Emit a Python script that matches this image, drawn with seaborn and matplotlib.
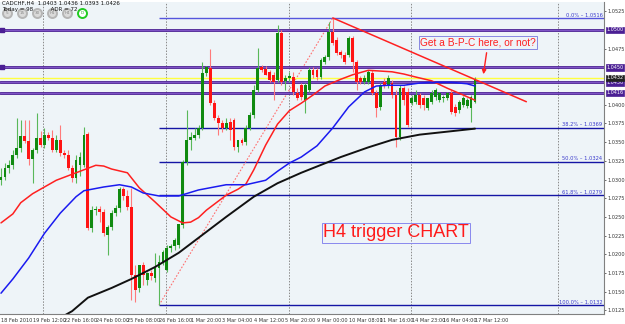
import numpy as np
import pandas as pd
import matplotlib
matplotlib.use("Agg")
import matplotlib.pyplot as plt
import seaborn as sns

# ---------------- data (CADCHF H4) ----------------
opens = [1.0299,1.0303,1.0315,1.0319,1.0333,1.0342,1.0358,1.0351,1.0327,1.0339,
         1.0355,1.0346,1.0359,1.0355,1.0339,1.0353,1.0335,1.0333,1.0315,1.0302,
         1.0319,1.0319,1.0361,1.0235,1.0259,1.0261,1.0257,1.0226,1.0236,1.0255,
         1.0262,1.0287,1.0278,1.0263,1.0172,1.0155,1.0186,1.0166,1.0175,1.0168,
         1.0182,1.0190,1.0179,1.0208,1.0211,1.0212,1.0239,1.0323,1.0353,1.0355,
         1.0359,1.0369,1.0442,1.0449,1.0402,1.0382,1.0376,1.0369,1.0377,1.0380,
         1.0343,1.0353,1.0350,1.0369,1.0386,1.0420,1.0450,1.0448,1.0444,1.0440,
         1.0433,1.0496,1.0432,1.0436,1.0437,1.0416,1.0426,1.0406,1.0420,1.0446,
         1.0446,1.0437,1.0457,1.0464,1.0497,1.0487,1.0470,1.0466,1.0466,1.0489,
         1.0457,1.0436,1.0430,1.0430,1.0442,1.0416,1.0397,1.0430,1.0426,1.0429,
         1.0413,1.0357,1.0422,1.0417,1.0402,1.0404,1.0413,1.0409,1.0396,1.0404,
         1.0410,1.0406,1.0409,1.0409,1.0416,1.0397,1.0393,1.0400,1.0398,1.0396,
         1.0403]
highs = [1.0315,1.0322,1.0326,1.0339,1.0382,1.0380,1.0380,1.0380,1.0342,1.0389,
         1.0365,1.0369,1.0364,1.0366,1.0359,1.0373,1.0339,1.0339,1.0319,1.0333,
         1.0337,1.0370,1.0364,1.0265,1.0265,1.0265,1.0261,1.0239,1.0259,1.0266,
         1.0290,1.0290,1.0286,1.0289,1.0186,1.0186,1.0190,1.0176,1.0179,1.0202,
         1.0199,1.0206,1.0212,1.0214,1.0222,1.0241,1.0326,1.0393,1.0364,1.0369,
         1.0373,1.0457,1.0452,1.0474,1.0406,1.0386,1.0380,1.0382,1.0382,1.0382,
         1.0353,1.0355,1.0373,1.0390,1.0426,1.0476,1.0453,1.0452,1.0446,1.0444,
         1.0507,1.0500,1.0440,1.0444,1.0444,1.0422,1.0429,1.0429,1.0450,1.0450,
         1.0449,1.0462,1.0466,1.0510,1.0516,1.0490,1.0473,1.0470,1.0492,1.0492,
         1.0460,1.0438,1.0440,1.0446,1.0446,1.0420,1.0429,1.0436,1.0440,1.0433,
         1.0420,1.0426,1.0425,1.0422,1.0413,1.0420,1.0416,1.0413,1.0409,1.0420,
         1.0422,1.0417,1.0413,1.0417,1.0420,1.0401,1.0406,1.0412,1.0409,1.0413,
         1.0437]
lows  = [1.0293,1.0299,1.0309,1.0314,1.0329,1.0337,1.0349,1.0319,1.0295,1.0335,
         1.0343,1.0342,1.0353,1.0337,1.0337,1.0331,1.0329,1.0313,1.0297,1.0295,
         1.0305,1.0317,1.0233,1.0230,1.0253,1.0243,1.0224,1.0199,1.0233,1.0251,
         1.0257,1.0273,1.0259,1.0139,1.0136,1.0150,1.0159,1.0159,1.0166,1.0163,
         1.0132,1.0186,1.0176,1.0203,1.0206,1.0208,1.0235,1.0319,1.0339,1.0353,
         1.0355,1.0366,1.0438,1.0400,1.0380,1.0360,1.0364,1.0366,1.0353,1.0339,
         1.0337,1.0346,1.0346,1.0366,1.0382,1.0417,1.0444,1.0440,1.0430,1.0406,
         1.0430,1.0426,1.0420,1.0430,1.0413,1.0406,1.0406,1.0389,1.0417,1.0436,
         1.0433,1.0434,1.0454,1.0460,1.0480,1.0466,1.0462,1.0454,1.0464,1.0444,
         1.0420,1.0428,1.0428,1.0428,1.0413,1.0384,1.0393,1.0422,1.0422,1.0409,
         1.0343,1.0353,1.0400,1.0370,1.0400,1.0401,1.0396,1.0393,1.0393,1.0401,
         1.0406,1.0404,1.0404,1.0406,1.0388,1.0385,1.0389,1.0397,1.0396,1.0377,
         1.0402]
closes = [1.0303,1.0315,1.0319,1.0333,1.0342,1.0358,1.0351,1.0327,1.0339,1.0355,
          1.0346,1.0359,1.0355,1.0339,1.0353,1.0335,1.0333,1.0315,1.0302,1.0326,
          1.0330,1.0359,1.0235,1.0259,1.0261,1.0257,1.0229,1.0236,1.0255,1.0262,
          1.0287,1.0278,1.0263,1.0172,1.0152,1.0186,1.0172,1.0175,1.0171,1.0182,
          1.0190,1.0203,1.0208,1.0211,1.0219,1.0240,1.0323,1.0353,1.0357,1.0359,
          1.0369,1.0442,1.0450,1.0402,1.0382,1.0376,1.0369,1.0376,1.0366,1.0343,
          1.0353,1.0349,1.0369,1.0386,1.0420,1.0449,1.0446,1.0440,1.0433,1.0430,
          1.0496,1.0430,1.0436,1.0438,1.0417,1.0409,1.0410,1.0426,1.0446,1.0440,
          1.0437,1.0460,1.0464,1.0497,1.0483,1.0469,1.0466,1.0457,1.0489,1.0457,
          1.0430,1.0430,1.0436,1.0444,1.0416,1.0396,1.0426,1.0426,1.0436,1.0413,
          1.0357,1.0422,1.0406,1.0373,1.0409,1.0413,1.0400,1.0400,1.0409,1.0416,
          1.0420,1.0416,1.0410,1.0416,1.0390,1.0389,1.0404,1.0409,1.0406,1.0410,
          1.0434]

# moving averages (bar index, price)
red_ma_idx = [0,3,5,8,11,14,18,21,24,26,28,32,35,39,43,46,48,50,52,57,60,62,64,67,70,
              73,76,79,82,86,89,93,96,99,102,105,109,113,117,120]
red_ma_val = [1.0242,1.0254,1.0269,1.0281,1.0290,1.0299,1.0307,1.0313,1.0319,1.0318,
              1.0314,1.0309,1.0289,1.0270,1.0250,1.0242,1.0243,1.0249,1.0259,1.0279,
              1.0287,1.0294,1.0313,1.0346,1.0374,1.0392,1.0402,1.0413,1.0425,1.0434,
              1.0440,1.0446,1.0445,1.0444,1.0441,1.0437,1.0432,1.0422,1.0413,1.0406]
blue_ma_idx = [0,3,7,11,15,19,21,23,26,30,33,36,40,45,50,57,62,67,70,73,76,80,84,88,
               92,95,98,102,106,110,114,118,120]
blue_ma_val = [1.0148,1.0167,1.0195,1.0228,1.0255,1.0277,1.0285,1.0287,1.0290,1.0293,
               1.0290,1.0282,1.0278,1.0278,1.0286,1.0293,1.0293,1.0299,1.0311,1.0322,
               1.0330,1.0345,1.0369,1.0397,1.0417,1.0425,1.0426,1.0426,1.0429,1.0430,
               1.0430,1.0428,1.0425]
black_ma_idx = [15,18,22,28,33,39,45,50,57,64,70,76,86,93,99,106,113,120]
black_ma_val = [1.0115,1.0124,1.0142,1.0155,1.0167,1.0183,1.0202,1.0222,1.0250,1.0277,
                1.0295,1.0309,1.0330,1.0343,1.0353,1.0360,1.0364,1.0368]

# drawn objects
fib_levels = ["0.0%", "38.2%", "50.0%", "61.8%", "100.0%"]
fib_prices = [1.0516, 1.0369, 1.0324, 1.0279, 1.0132]
fib_start_bar = 40
sr_levels = [1.0500, 1.0450, 1.0430, 1.0416]
sr_labels = ["1.0500", "1.0450", "1.0430", "1.0416"]
bid_price = 1.0436
bid_label = "1.0432"
trend_bars = [84, 133]
trend_prices = [1.0516, 1.0404]
fibline_bars = [40, 84]
fibline_prices = [1.0132, 1.0516]

xtick_bars = [0, 8, 16, 24, 32, 40, 48, 56, 64, 72, 80, 88, 96, 104, 112, 120]
xtick_labels = ["18 Feb 2010", "19 Feb 12:00", "22 Feb 16:00", "24 Feb 00:00",
                "25 Feb 08:00", "26 Feb 16:00", "1 Mar 20:00", "3 Mar 04:00",
                "4 Mar 12:00", "5 Mar 20:00", "9 Mar 00:00", "10 Mar 08:00",
                "11 Mar 16:00", "14 Mar 23:00", "16 Mar 04:00", "17 Mar 12:00"]
ytick_prices = [1.0525, 1.0475, 1.0400, 1.0375, 1.0350, 1.0325, 1.0300, 1.0275,
                1.0250, 1.0225, 1.0200, 1.0175, 1.0150, 1.0125]

# ---------------- layout helpers (pixel -> data) ----------------
W, H = 625, 324
def px_x(px):
    return (px - 1) / 3.95
def px_y(py):
    return 1.0540 - 0.0001337 * py

sns.set_theme(style="white")
plt.rcParams["font.family"] = ["DejaVu Sans"]

fig = plt.figure(figsize=(W / 100, H / 100), dpi=100)
fig.patch.set_facecolor("white")
ax = fig.add_axes([0, 10 / H, 604 / W, 312 / H])
ax.set_facecolor("#EEF4F8")
xmin, xmax = px_x(0), px_x(604)
ymin, ymax = px_y(314), px_y(2)
ax.set_xlim(xmin, xmax)
ax.set_ylim(ymin, ymax)

df = pd.DataFrame({"open": opens, "high": highs, "low": lows, "close": closes})
df["bar"] = np.arange(len(df))
up = df["close"] >= df["open"]

# vertical grid separators
for vx in [px_x(43), px_x(166), px_x(289), px_x(411), px_x(558)]:
    ax.axvline(vx, color="#8A8A8A", lw=0.7, ls=(0, (1.5, 1.5)), zorder=1)

# fib retracement
for lvl, p in zip(fib_levels, fib_prices):
    c = "#5555DD" if lvl == "0.0%" else "#1515A5"
    ax.hlines(p, fib_start_bar, xmax, color=c, lw=1.0, zorder=2)
    ax.text(xmax - 0.4, p + 0.00006, f"{lvl} \u2013 {p:.4f}", ha="right", va="bottom",
            fontsize=3.7, color="#3A3ACC", zorder=6)
ax.plot(fibline_bars, fibline_prices, color="#FF7070", lw=0.8, ls=(0, (1.5, 1.5)), zorder=2)

# support/resistance levels
for p in sr_levels:
    ax.axhline(p, color="#4B1F94", lw=2.0, zorder=2)
    ax.axhline(p, color="#8A5FD0", lw=0.6, zorder=2)
ax.scatter([px_x(2)] * 2, sr_levels[:2], marker="s", s=5, color="#4B1F94", zorder=3)
ax.axhline(bid_price, color="#FFFF40", lw=1.0, zorder=2)

# candles
wick_col = np.where(up, "#59B859", "#FF7A7A")
body_col = np.where(up, "#108A10", "#FF1414")
ax.vlines(df["bar"], df["low"], df["high"], colors=wick_col, lw=0.8, zorder=3)
body_h = np.maximum((df["close"] - df["open"]).abs(), 0.00008)
body_b = np.minimum(df["open"], df["close"])
ax.bar(df["bar"], body_h, bottom=body_b, width=0.72, color=body_col, lw=0, zorder=4)

# moving averages (seaborn)
sns.lineplot(x=red_ma_idx, y=red_ma_val, ax=ax, color="#FF2020", lw=1.1, sort=False,
             estimator=None, zorder=5)
sns.lineplot(x=blue_ma_idx, y=blue_ma_val, ax=ax, color="#1A1AF0", lw=1.1, sort=False,
             estimator=None, zorder=5)
sns.lineplot(x=black_ma_idx, y=black_ma_val, ax=ax, color="#111111", lw=1.4, sort=False,
             estimator=None, zorder=5)

# trend line
ax.plot(trend_bars, trend_prices, color="#FF2020", lw=1.1, zorder=5)

# annotations
ax.text(px_x(478), px_y(42.5), "Get a B-P-C here, or not?", ha="center", va="center",
        fontsize=7.3, color="#FF2020", family=["Liberation Sans"], zorder=7,
        bbox=dict(boxstyle="square,pad=0.15", fc="none", ec="#7777DD", lw=0.6))
ax.annotate("", xy=(px_x(483), px_y(77)), xytext=(px_x(487), px_y(50)),
            arrowprops=dict(arrowstyle="-|>", color="#FF2020", lw=1.0, mutation_scale=6),
            zorder=7)
ax.text(px_x(396), px_y(233), "H4 trigger CHART", ha="center", va="center",
        fontsize=13, color="#FF1A1A", family=["Liberation Sans"], zorder=7,
        bbox=dict(boxstyle="square,pad=0.08", fc="none", ec="#8888EE", lw=0.7))

# axes styling
for s in ["top", "left"]:
    ax.spines[s].set_visible(False)
for s in ["right", "bottom"]:
    ax.spines[s].set_color("#808080")
    ax.spines[s].set_linewidth(0.8)
ax.yaxis.tick_right()
ax.set_yticks(ytick_prices)
ax.set_yticklabels([f"{p:.4f}" for p in ytick_prices])
ax.set_xticks(xtick_bars)
ax.set_xticklabels(xtick_labels, ha="left")
ax.tick_params(axis="both", labelsize=3.6, colors="#333333", length=1.5, width=0.5, pad=1.2)
ax.set_xlabel("")
ax.set_ylabel("")
ax.grid(False)

# price boxes on the right axis
for p, lab in zip(sr_levels, sr_labels):
    ax.text(1.004, p, lab, transform=ax.get_yaxis_transform(), ha="left", va="center",
            fontsize=3.5, color="white", zorder=8, clip_on=False,
            bbox=dict(boxstyle="square,pad=0.15", fc="#4B1F94", ec="#4B1F94", lw=0.5))
ax.text(1.004, bid_price, bid_label, transform=ax.get_yaxis_transform(), ha="left",
        va="center", fontsize=3.5, color="white", zorder=9, clip_on=False,
        bbox=dict(boxstyle="square,pad=0.15", fc="#222222", ec="#222222", lw=0.5))

# header
fig.text(2 / W, 1 - 1 / H, "CADCHF,H4  1.0403 1.0436 1.0393 1.0426", fontsize=4.0,
         va="top", ha="left", color="#111111")
fig.text(2 / W, 1 - 6.5 / H, "Today = 98          ADR = 72", fontsize=4.0,
         va="top", ha="left", color="#111111")
btn_x = [7, 22, 37, 52, 67, 82]
btn_lab = ["5", "15", "30", "H1", "H4", "D"]
for bx, bl in zip(btn_x, btn_lab):
    green = bl == "D"
    ax.scatter([px_x(bx)], [px_y(13)], s=42, marker="o",
               facecolor="white" if green else "#DADADA",
               edgecolor="#22CC22" if green else "#B5B5B5", lw=1.4, zorder=8)
    ax.text(px_x(bx), px_y(13), bl, ha="center", va="center", fontsize=3.0,
            color="#22AA22" if green else "#888888", zorder=9)

fig.savefig("out.png", dpi=100, facecolor="white")
